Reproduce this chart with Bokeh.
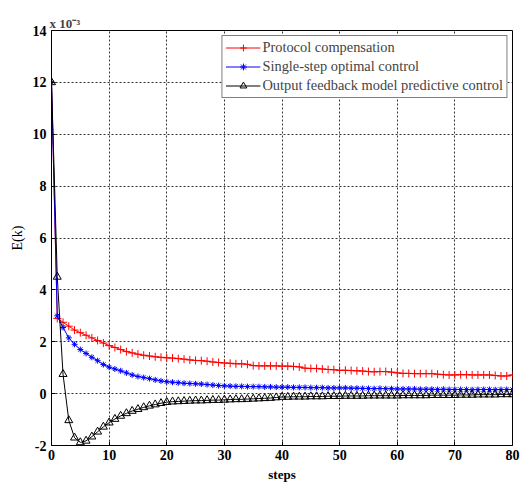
from bokeh.plotting import figure
from bokeh.models import Range1d, FixedTicker, Legend, LegendItem
from bokeh.embed import file_html
from bokeh.resources import INLINE

steps = list(range(81))

# values in units of 1e-3
protocol = [12.0, 2.9, 2.75, 2.6, 2.45, 2.35, 2.25, 2.15, 2.05, 1.95,
            1.85, 1.78, 1.7, 1.62, 1.57, 1.52, 1.48, 1.45, 1.42, 1.4,
            1.38, 1.37, 1.35, 1.33, 1.3, 1.28, 1.27, 1.25, 1.22, 1.2,
            1.18, 1.17, 1.15, 1.15, 1.13, 1.08, 1.07, 1.07, 1.07, 1.07,
            1.06, 1.06, 1.05, 1.03, 0.98, 0.97, 0.97, 0.95, 0.93, 0.92,
            0.9, 0.9, 0.89, 0.88, 0.87, 0.85, 0.84, 0.85, 0.85, 0.83,
            0.8, 0.78, 0.78, 0.77, 0.77, 0.77, 0.77, 0.75, 0.73, 0.72,
            0.72, 0.73, 0.73, 0.72, 0.72, 0.72, 0.72, 0.7, 0.68, 0.68,
            0.72]

single_step = [12.0, 3.0, 2.55, 2.15, 1.9, 1.7, 1.55, 1.4, 1.27, 1.12,
               1.02, 0.95, 0.88, 0.8, 0.72, 0.66, 0.62, 0.58, 0.53, 0.49,
               0.46, 0.44, 0.42, 0.4, 0.39, 0.38, 0.37, 0.35, 0.33, 0.31,
               0.3, 0.29, 0.28, 0.28, 0.27, 0.27, 0.27, 0.26, 0.26, 0.25,
               0.25, 0.25, 0.24, 0.24, 0.24, 0.23, 0.23, 0.23, 0.22, 0.22,
               0.22, 0.22, 0.21, 0.21, 0.2, 0.2, 0.19, 0.2, 0.19, 0.19,
               0.18, 0.18, 0.18, 0.18, 0.17, 0.17, 0.17, 0.16, 0.17, 0.16,
               0.16, 0.16, 0.16, 0.15, 0.16, 0.16, 0.16, 0.15, 0.16, 0.16,
               0.16]

ofmpc = [12.0, 4.5, 0.75, -1.03, -1.7, -1.88, -1.82, -1.66, -1.47, -1.28,
         -1.12, -0.98, -0.86, -0.76, -0.67, -0.6, -0.53, -0.47, -0.42, -0.37,
         -0.33, -0.31, -0.3, -0.29, -0.28, -0.27, -0.27, -0.26, -0.25, -0.25,
         -0.24, -0.23, -0.22, -0.22, -0.21, -0.2, -0.19, -0.18, -0.17, -0.15,
         -0.13, -0.13, -0.12, -0.12, -0.12, -0.11, -0.11, -0.11, -0.1, -0.1,
         -0.1, -0.09, -0.09, -0.09, -0.09, -0.08, -0.08, -0.08, -0.08, -0.08,
         -0.08, -0.07, -0.07, -0.07, -0.07, -0.07, -0.06, -0.06, -0.06, -0.06,
         -0.06, -0.05, -0.05, -0.05, -0.04, -0.04, -0.04, -0.04, -0.03, -0.03,
         -0.03]

x_ticks = [0, 10, 20, 30, 40, 50, 60, 70, 80]
y_ticks = [-2, 0, 2, 4, 6, 8, 10, 12, 14]

SERIF = "Liberation Serif"

p = figure(width=520, height=484, output_backend="svg", toolbar_location=None,
           x_range=Range1d(0, 80), y_range=Range1d(-2, 14),
           title="x 10\u207b\u00b3",
           min_border_left=51, min_border_right=8, min_border_top=30, min_border_bottom=37)

p.title.text_font = SERIF
p.title.text_font_style = "bold"
p.title.text_font_size = "13px"
p.title.align = "left"
p.title.offset = -2
p.title.standoff = 0

p.outline_line_color = "black"
p.outline_line_width = 1
p.background_fill_color = "white"
p.border_fill_color = "white"

for ax in (p.xaxis[0], p.yaxis[0]):
    ax.major_label_text_font = SERIF
    ax.major_label_text_font_style = "bold"
    ax.major_label_text_font_size = "14px"
    ax.major_label_text_color = "black"
    ax.axis_label_text_font = SERIF
    ax.axis_label_text_color = "black"
    ax.axis_line_color = "black"
    ax.major_tick_in = 4
    ax.major_tick_out = 0
    ax.minor_tick_line_color = None

p.xaxis.ticker = FixedTicker(ticks=x_ticks)
p.yaxis.ticker = FixedTicker(ticks=y_ticks)
p.yaxis.major_label_overrides = {t: str(t) for t in y_ticks}
p.xaxis.major_label_standoff = 4
p.yaxis.major_label_standoff = 5
p.xaxis.axis_label = "steps"
p.xaxis.axis_label_text_font_style = "bold"
p.xaxis.axis_label_text_font_size = "13px"
p.xaxis.axis_label_standoff = 4
p.yaxis.axis_label = "E(k)"
p.yaxis.axis_label_text_font_style = "normal"
p.yaxis.axis_label_text_font_size = "14px"
p.yaxis.axis_label_standoff = 5

p.grid.grid_line_color = "black"
p.grid.grid_line_dash = "2 2"
p.grid.grid_line_alpha = 0.8
p.grid.grid_line_width = 1

r1 = p.line(steps, protocol, line_color="red", line_width=1)
m1 = p.scatter(steps, protocol, marker="cross", size=8, line_color="red", line_width=1)
r2 = p.line(steps, single_step, line_color="blue", line_width=1)
m2 = p.scatter(steps, single_step, marker="asterisk", size=6, line_color="blue", line_width=1)
r3 = p.line(steps, ofmpc, line_color="black", line_width=1)
m3 = p.scatter(steps, ofmpc, marker="triangle", size=8, line_color="black",
               fill_color=None, line_width=1)

legend = Legend(items=[
    LegendItem(label="Protocol compensation", renderers=[r1, m1]),
    LegendItem(label="Single-step optimal control", renderers=[r2, m2]),
    LegendItem(label="Output feedback model predictive control", renderers=[r3, m3]),
], location="top_right")
legend.label_text_font = SERIF
legend.label_text_font_size = "14.4px"
legend.label_height = 17
legend.glyph_height = 17
legend.glyph_width = 35
legend.spacing = 2
legend.padding = 3
legend.margin = 5
legend.label_standoff = 2
legend.border_line_color = "black"
legend.border_line_width = 1
legend.background_fill_alpha = 1
p.add_layout(legend)

open("out.html", "w").write(file_html(p, INLINE))
